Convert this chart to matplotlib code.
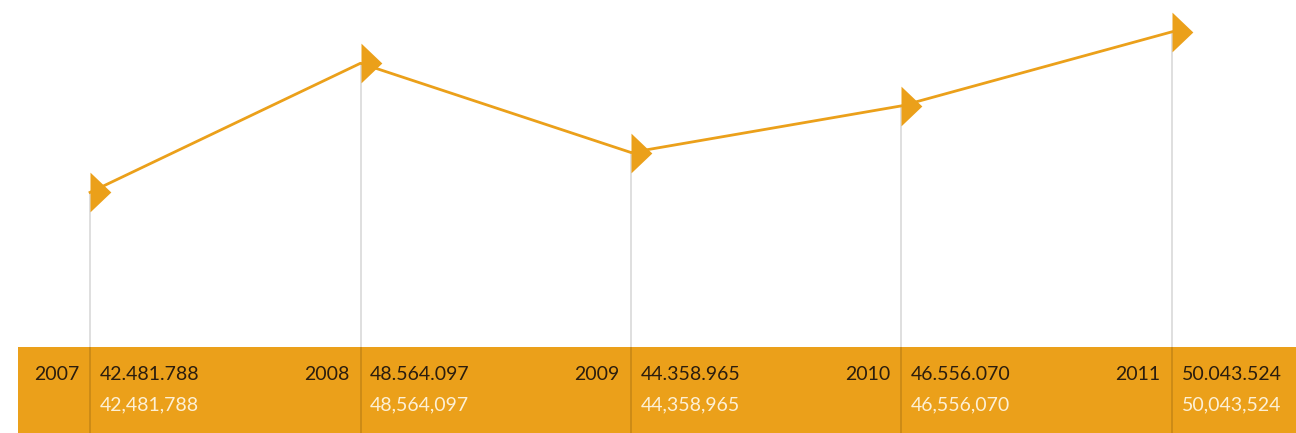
import matplotlib
matplotlib.use("Agg")
import matplotlib.pyplot as plt
from matplotlib.path import Path
from matplotlib.patches import Rectangle
from matplotlib.transforms import blended_transform_factory

YEARS = ["2007", "2008", "2009", "2010", "2011"]
VALUES = [42481788, 48564097, 44358965, 46556070, 50043524]

ORANGE = "#eba01a"
DARK_TEXT = "#2b1d0e"
LIGHT_TEXT = "#fdf0d5"

plt.rcParams["font.family"] = ["Lato", "DejaVu Sans"]


def fmt_dots(v):
    return f"{v:,}".replace(",", ".")


def fmt_commas(v):
    return f"{v:,}"


def main():
    fig = plt.figure(figsize=(12.96, 4.33), dpi=100)
    ax = fig.add_axes([0, 0, 1, 1])
    ax.set_axis_off()

    xs = list(range(len(VALUES)))
    ax.set_xlim(-0.333, 4.459)
    ax.set_ylim(31.147e6, 51.543e6)

    band_h = 86 / 433
    trans = blended_transform_factory(ax.transData, ax.transAxes)

    # grey drop lines from each point down to the band
    ax.vlines(xs, 31.147e6, VALUES, color="#000000", alpha=0.15, lw=1.2, zorder=3)

    # orange band at the bottom
    ax.add_patch(Rectangle((-0.266, 0), 5.0, band_h, transform=trans,
                           facecolor=ORANGE, edgecolor="none", zorder=2))

    # triangle marker with its flat edge on the data x
    tri = Path([(0, -1), (0, 1), (1.05, 0), (0, -1)],
               [Path.MOVETO, Path.LINETO, Path.LINETO, Path.CLOSEPOLY])
    ax.plot(xs, VALUES, color=ORANGE, lw=2.0, zorder=4)
    ax.plot(xs, VALUES, ls="none", marker=tri, markersize=30,
            markerfacecolor=ORANGE, markeredgecolor="none", zorder=5)

    row1 = 1 - 374 / 433
    row2 = 1 - 405 / 433
    for x, year, v in zip(xs, YEARS, VALUES):
        ax.annotate(year, xy=(x, row1), xycoords=trans, xytext=(-8, 0),
                    textcoords="offset points", ha="right", va="center",
                    fontsize=14, color=DARK_TEXT, zorder=6)
        ax.annotate(fmt_dots(v), xy=(x, row1), xycoords=trans, xytext=(7, 0),
                    textcoords="offset points", ha="left", va="center",
                    fontsize=14, color=DARK_TEXT, zorder=6)
        ax.annotate(fmt_commas(v), xy=(x, row2), xycoords=trans, xytext=(7, 0),
                    textcoords="offset points", ha="left", va="center",
                    fontsize=14, color=LIGHT_TEXT, zorder=6)

    fig.savefig("out.png", dpi=100)
    plt.close(fig)


if __name__ == "__main__":
    main()
